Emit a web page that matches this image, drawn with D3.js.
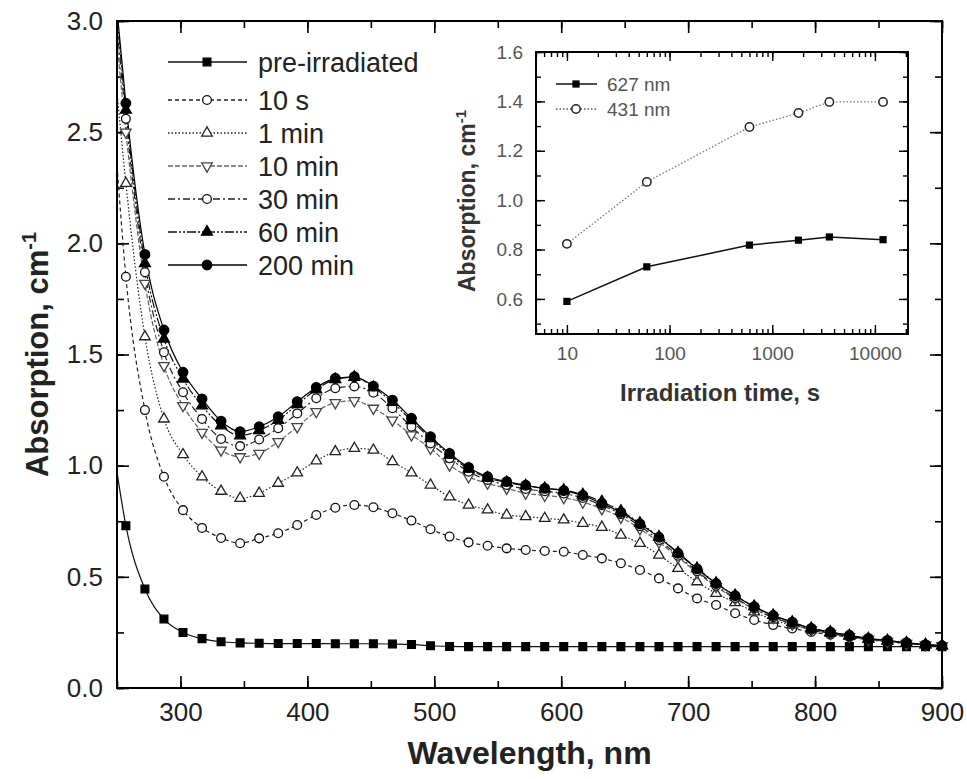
<!DOCTYPE html>
<html><head><meta charset="utf-8">
<script src="https://cdn.jsdelivr.net/npm/d3@7"></script>
<style>
body{margin:0;background:#fff;}
text{font-family:"Liberation Sans",Arial,sans-serif;}
</style>
</head><body>
<svg id="chart" width="967" height="779"></svg>
<script>
// ---------------- DATA ----------------
const wavelengths = [250, 257, 272, 287, 302, 317, 332, 347, 362, 377, 392, 407, 422, 437, 452, 467, 482, 497, 512, 527, 542, 557, 572, 587, 602, 617, 632, 647, 662, 677, 692, 707, 722, 737, 752, 767, 782, 797, 812, 827, 842, 857, 872, 887, 900];
const seriesNames = ["pre-irradiated", "10 s", "1 min", "10 min", "30 min", "60 min", "200 min"];
const preIrradiated = [0.97, 0.73, 0.445, 0.31, 0.25, 0.222, 0.208, 0.203, 0.201, 0.200, 0.200, 0.200, 0.199, 0.199, 0.199, 0.198, 0.196, 0.190, 0.187, 0.186, 0.186, 0.186, 0.186, 0.186, 0.186, 0.186, 0.186, 0.186, 0.186, 0.186, 0.186, 0.186, 0.186, 0.186, 0.186, 0.186, 0.186, 0.186, 0.186, 0.186, 0.186, 0.186, 0.186, 0.186, 0.186];
const s10s = [2.35, 1.85, 1.25, 0.95, 0.80, 0.72, 0.675, 0.651, 0.673, 0.696, 0.733, 0.778, 0.811, 0.823, 0.813, 0.786, 0.753, 0.714, 0.681, 0.655, 0.640, 0.628, 0.621, 0.616, 0.613, 0.598, 0.583, 0.561, 0.531, 0.493, 0.448, 0.403, 0.373, 0.336, 0.306, 0.283, 0.268, 0.252, 0.240, 0.228, 0.217, 0.209, 0.201, 0.194, 0.190];
const s1min = [2.68, 2.27, 1.58, 1.21, 1.05, 0.95, 0.885, 0.853, 0.876, 0.921, 0.968, 1.022, 1.063, 1.078, 1.070, 1.018, 0.968, 0.913, 0.860, 0.823, 0.801, 0.778, 0.771, 0.763, 0.756, 0.741, 0.723, 0.688, 0.651, 0.598, 0.538, 0.478, 0.426, 0.384, 0.343, 0.306, 0.283, 0.262, 0.246, 0.232, 0.219, 0.210, 0.201, 0.194, 0.190];
const s10min = [2.90, 2.50, 1.82, 1.45, 1.27, 1.15, 1.07, 1.040, 1.055, 1.108, 1.175, 1.243, 1.283, 1.292, 1.258, 1.205, 1.138, 1.078, 1.003, 0.950, 0.921, 0.898, 0.876, 0.866, 0.856, 0.836, 0.806, 0.768, 0.716, 0.656, 0.588, 0.520, 0.456, 0.402, 0.355, 0.316, 0.287, 0.261, 0.245, 0.231, 0.218, 0.209, 0.200, 0.194, 0.190];
const s30min = [2.97, 2.56, 1.87, 1.51, 1.33, 1.21, 1.12, 1.088, 1.118, 1.168, 1.235, 1.303, 1.348, 1.356, 1.328, 1.258, 1.175, 1.100, 1.033, 0.973, 0.936, 0.913, 0.895, 0.885, 0.875, 0.855, 0.822, 0.782, 0.728, 0.666, 0.595, 0.525, 0.460, 0.405, 0.358, 0.318, 0.289, 0.262, 0.246, 0.232, 0.219, 0.210, 0.201, 0.194, 0.190];
const s60min = [3.02, 2.60, 1.91, 1.57, 1.39, 1.27, 1.18, 1.135, 1.158, 1.205, 1.275, 1.342, 1.388, 1.398, 1.352, 1.285, 1.203, 1.122, 1.048, 0.985, 0.945, 0.925, 0.910, 0.898, 0.890, 0.870, 0.838, 0.796, 0.742, 0.680, 0.608, 0.538, 0.472, 0.416, 0.367, 0.327, 0.296, 0.268, 0.251, 0.236, 0.222, 0.213, 0.203, 0.195, 0.190];
const s200min = [3.05, 2.63, 1.95, 1.61, 1.42, 1.30, 1.20, 1.153, 1.175, 1.220, 1.288, 1.352, 1.393, 1.400, 1.358, 1.295, 1.213, 1.130, 1.055, 0.992, 0.950, 0.928, 0.912, 0.898, 0.888, 0.866, 0.830, 0.790, 0.738, 0.678, 0.606, 0.536, 0.470, 0.415, 0.366, 0.326, 0.296, 0.268, 0.252, 0.237, 0.223, 0.214, 0.204, 0.195, 0.190];
const xTickLabels = [300, 400, 500, 600, 700, 800, 900];
const yTickLabels = [0.0, 0.5, 1.0, 1.5, 2.0, 2.5, 3.0];

// inset
const insetTimes = [10, 60, 600, 1800, 3600, 12000];
const insetNames = ["627 nm", "431 nm"];
const inset627 = [0.59, 0.73, 0.818, 0.838, 0.851, 0.84];
const inset431 = [0.823, 1.074, 1.296, 1.353, 1.398, 1.398];
const insetXTickLabels = [10, 100, 1000, 10000];
const insetYTickLabels = [0.6, 0.8, 1.0, 1.2, 1.4, 1.6];

// ---------------- STYLES ----------------
const mainSeries = [preIrradiated, s10s, s1min, s10min, s30min, s60min, s200min];
const styles = [
  {sym: d3.symbolSquare, size: 60, fill: "#000", stroke: "#000", line: "#111", dash: null, rot: 0},
  {sym: d3.symbolCircle, size: 60, fill: "#fff", stroke: "#111", line: "#222", dash: "4,3", rot: 0},
  {sym: d3.symbolTriangle, size: 48, fill: "#fff", stroke: "#222", line: "#222", dash: "1.5,2", rot: 0},
  {sym: d3.symbolTriangle, size: 48, fill: "#fff", stroke: "#444", line: "#666", dash: "5,2", rot: 180},
  {sym: d3.symbolCircle, size: 60, fill: "#fff", stroke: "#111", line: "#222", dash: "7,3,2,3", rot: 0},
  {sym: d3.symbolTriangle, size: 52, fill: "#000", stroke: "#000", line: "#111", dash: "9,2,2,2,2,2", rot: 0},
  {sym: d3.symbolCircle, size: 72, fill: "#000", stroke: "#000", line: "#000", dash: null, rot: 0}
];

const svg = d3.select("#chart");
const M = {left: 117, right: 942, top: 21, bottom: 688};
const x = d3.scaleLinear().domain([250, 900]).range([M.left, M.right]);
const y = d3.scaleLinear().domain([0, 3]).range([M.bottom, M.top]);

svg.append("defs").append("clipPath").attr("id", "clipMain")
  .append("rect").attr("x", M.left).attr("y", M.top).attr("width", M.right - M.left).attr("height", M.bottom - M.top);

// axes
const fontMain = "26px";
function styleAxis(g, color) {
  g.select(".domain").remove();
  g.selectAll("line").attr("stroke", "#000").attr("stroke-width", 1.6);
  g.selectAll("text").attr("font-size", fontMain).attr("fill", color || "#222").attr("font-family", '"Liberation Sans",Arial,sans-serif');
}
const xMinor = d3.range(250, 901, 50);
const yMinor = d3.range(0, 3.001, 0.25);
svg.append("g").attr("transform", `translate(0,${M.bottom})`)
  .call(d3.axisBottom(x).tickValues(xMinor).tickSize(-7).tickFormat("")).call(styleAxis);
svg.append("g").attr("transform", `translate(0,${M.bottom})`)
  .call(d3.axisBottom(x).tickValues(xTickLabels).tickSize(-12).tickPadding(15).tickFormat(d3.format("d"))).call(styleAxis);
svg.append("g").attr("transform", `translate(0,${M.top})`)
  .call(d3.axisTop(x).tickValues(xMinor).tickSize(-7).tickFormat("")).call(styleAxis);
svg.append("g").attr("transform", `translate(0,${M.top})`)
  .call(d3.axisTop(x).tickValues(xTickLabels).tickSize(-12).tickFormat("")).call(styleAxis);
svg.append("g").attr("transform", `translate(${M.left},0)`)
  .call(d3.axisLeft(y).tickValues(yMinor).tickSize(-7).tickFormat("")).call(styleAxis);
svg.append("g").attr("transform", `translate(${M.left},0)`)
  .call(d3.axisLeft(y).tickValues(yTickLabels).tickSize(-12).tickPadding(14).tickFormat(d3.format(".1f"))).call(styleAxis);
svg.append("g").attr("transform", `translate(${M.right},0)`)
  .call(d3.axisRight(y).tickValues(yMinor).tickSize(-7).tickFormat("")).call(styleAxis);
svg.append("g").attr("transform", `translate(${M.right},0)`)
  .call(d3.axisRight(y).tickValues(yTickLabels).tickSize(-12).tickFormat("")).call(styleAxis);

// curves
const line = d3.line().x((d, i) => x(wavelengths[i])).y(d => y(d)).curve(d3.curveMonotoneX);
const plot = svg.append("g").attr("clip-path", "url(#clipMain)");
mainSeries.forEach((vals, si) => {
  const st = styles[si];
  plot.append("path").attr("d", line(vals)).attr("fill", "none")
    .attr("stroke", st.line).attr("stroke-width", 1.2)
    .attr("stroke-dasharray", st.dash);
});
const markersG = svg.append("g");
mainSeries.forEach((vals, si) => {
  const st = styles[si];
  const sym = d3.symbol().type(st.sym).size(st.size);
  vals.forEach((v, i) => {
    if (i === 0) return; // first sample is the line start, no symbol
    if (y(v) < M.top) return;
    markersG.append("path").attr("d", sym())
      .attr("transform", `translate(${x(wavelengths[i])},${y(v)}) rotate(${st.rot})`)
      .attr("fill", st.fill).attr("stroke", st.stroke).attr("stroke-width", 1.3);
  });
});

// frame
svg.append("rect").attr("x", M.left).attr("y", M.top).attr("width", M.right - M.left).attr("height", M.bottom - M.top)
  .attr("fill", "none").attr("stroke", "#000").attr("stroke-width", 2);

// axis titles
svg.append("text").attr("x", (M.left + M.right) / 2).attr("y", 764).attr("text-anchor", "middle")
  .attr("font-size", "32px").attr("font-weight", "bold").attr("fill", "#222").text("Wavelength, nm");
const yt = svg.append("text").attr("transform", `translate(48,${(M.top + M.bottom) / 2}) rotate(-90)`)
  .attr("text-anchor", "middle").attr("font-size", "31px").attr("font-weight", "bold").attr("fill", "#222");
yt.append("tspan").text("Absorption, cm");
yt.append("tspan").attr("dy", "-0.6em").attr("font-size", "20px").text("-1");

// legend
const legendY = [62, 100, 133, 166, 199, 232, 265];
seriesNames.forEach((name, i) => {
  const st = styles[i];
  const ly = legendY[i];
  svg.append("line").attr("x1", 168).attr("x2", 247).attr("y1", ly).attr("y2", ly)
    .attr("stroke", st.line).attr("stroke-width", 1.6).attr("stroke-dasharray", st.dash);
  svg.append("path").attr("d", d3.symbol().type(st.sym).size(st.size)())
    .attr("transform", `translate(207,${ly}) rotate(${st.rot})`)
    .attr("fill", st.fill).attr("stroke", st.stroke).attr("stroke-width", 1.3);
  svg.append("text").attr("x", 258).attr("y", ly).attr("dy", "0.36em").attr("font-size", "27px")
    .attr("fill", "#222").text(name);
});

// ---------------- INSET ----------------
const I = {left: 536, right: 908, top: 52, bottom: 334};
const ix = d3.scaleLog().domain([5, 21000]).range([I.left, I.right]);
const iy = d3.scaleLinear().domain([0.458, 1.6]).range([I.bottom, I.top]);
svg.append("rect").attr("x", I.left).attr("y", I.top).attr("width", I.right - I.left).attr("height", I.bottom - I.top)
  .attr("fill", "#fff").attr("stroke", "none");

function styleInset(g) {
  g.select(".domain").remove();
  g.selectAll("line").attr("stroke", "#000").attr("stroke-width", 1.4);
  g.selectAll("text").attr("font-size", "19px").attr("fill", "#555").attr("font-family", '"Liberation Sans",Arial,sans-serif');
}
const ixMinor = [];
[1, 10, 100, 1000, 10000].forEach(d => { for (let k = 1; k <= 9; k++) { const v = k * d; if (v >= 5 && v <= 21000) ixMinor.push(v); } });
const iyMinor = d3.range(0.5, 1.61, 0.1);
svg.append("g").attr("transform", `translate(0,${I.bottom})`)
  .call(d3.axisBottom(ix).tickValues(ixMinor).tickSize(-5).tickFormat("")).call(styleInset);
svg.append("g").attr("transform", `translate(0,${I.bottom})`)
  .call(d3.axisBottom(ix).tickValues(insetXTickLabels).tickSize(-9).tickPadding(13).tickFormat(d3.format("d"))).call(styleInset);
svg.append("g").attr("transform", `translate(0,${I.top})`)
  .call(d3.axisTop(ix).tickValues(ixMinor).tickSize(-5).tickFormat("")).call(styleInset);
svg.append("g").attr("transform", `translate(0,${I.top})`)
  .call(d3.axisTop(ix).tickValues(insetXTickLabels).tickSize(-9).tickFormat("")).call(styleInset);
svg.append("g").attr("transform", `translate(${I.left},0)`)
  .call(d3.axisLeft(iy).tickValues(iyMinor).tickSize(-5).tickFormat("")).call(styleInset);
svg.append("g").attr("transform", `translate(${I.left},0)`)
  .call(d3.axisLeft(iy).tickValues(insetYTickLabels).tickSize(-9).tickPadding(13).tickFormat(d3.format(".1f"))).call(styleInset);
svg.append("g").attr("transform", `translate(${I.right},0)`)
  .call(d3.axisRight(iy).tickValues(iyMinor).tickSize(-5).tickFormat("")).call(styleInset);
svg.append("g").attr("transform", `translate(${I.right},0)`)
  .call(d3.axisRight(iy).tickValues(insetYTickLabels).tickSize(-9).tickFormat("")).call(styleInset);

const iline = d3.line().x((d, i) => ix(insetTimes[i])).y(d => iy(d));
svg.append("path").attr("d", iline(inset431)).attr("fill", "none").attr("stroke", "#777")
  .attr("stroke-width", 1.3).attr("stroke-dasharray", "1.5,2");
svg.append("path").attr("d", iline(inset627)).attr("fill", "none").attr("stroke", "#111").attr("stroke-width", 1.5);
inset431.forEach((v, i) => {
  svg.append("circle").attr("cx", ix(insetTimes[i])).attr("cy", iy(v)).attr("r", 4.2)
    .attr("fill", "#fff").attr("stroke", "#222").attr("stroke-width", 1.5);
});
inset627.forEach((v, i) => {
  svg.append("path").attr("d", d3.symbol().type(d3.symbolSquare).size(52)())
    .attr("transform", `translate(${ix(insetTimes[i])},${iy(v)})`).attr("fill", "#000");
});
svg.append("rect").attr("x", I.left).attr("y", I.top).attr("width", I.right - I.left).attr("height", I.bottom - I.top)
  .attr("fill", "none").attr("stroke", "#000").attr("stroke-width", 2);

// inset legend
const insetLegendY = [84, 109];
svg.append("line").attr("x1", 556).attr("x2", 597).attr("y1", insetLegendY[0]).attr("y2", insetLegendY[0])
  .attr("stroke", "#111").attr("stroke-width", 1.6);
svg.append("path").attr("d", d3.symbol().type(d3.symbolSquare).size(52)())
  .attr("transform", `translate(576,${insetLegendY[0]})`).attr("fill", "#000");
svg.append("line").attr("x1", 556).attr("x2", 597).attr("y1", insetLegendY[1]).attr("y2", insetLegendY[1])
  .attr("stroke", "#555").attr("stroke-width", 1.4).attr("stroke-dasharray", "1.5,2");
svg.append("circle").attr("cx", 576).attr("cy", insetLegendY[1]).attr("r", 4.2)
  .attr("fill", "#fff").attr("stroke", "#222").attr("stroke-width", 1.5);
insetNames.forEach((n, i) => {
  svg.append("text").attr("x", 607).attr("y", insetLegendY[i]).attr("dy", "0.36em")
    .attr("font-size", "19px").attr("fill", "#555").text(n);
});

// inset titles
svg.append("text").attr("x", 720).attr("y", 401).attr("text-anchor", "middle")
  .attr("font-size", "24px").attr("font-weight", "bold").attr("fill", "#333").text("Irradiation time, s");
const iyt = svg.append("text").attr("transform", `translate(475,${201}) rotate(-90)`)
  .attr("text-anchor", "middle").attr("font-size", "23px").attr("font-weight", "bold").attr("fill", "#333");
iyt.append("tspan").text("Absorption, cm");
iyt.append("tspan").attr("dy", "-0.6em").attr("font-size", "15px").text("-1");
</script>
</body></html>
